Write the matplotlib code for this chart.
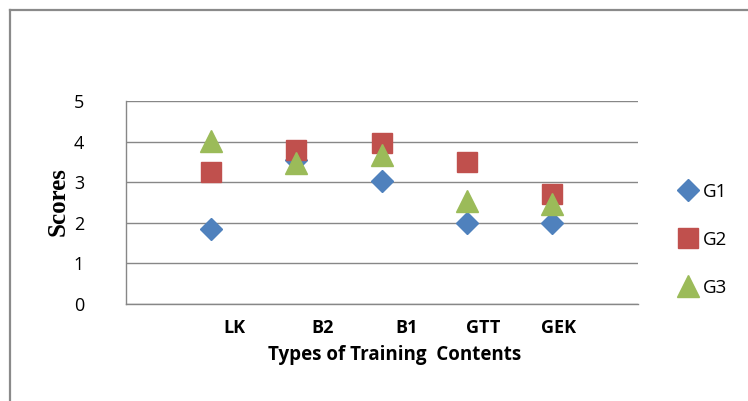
import matplotlib
matplotlib.use("Agg")
import matplotlib.pyplot as plt
from matplotlib.lines import Line2D

categories = ["LK", "B2", "B1", "GTT", "GEK"]
g1 = [1.85, 3.55, 3.03, 2.0, 2.0]
g2 = [3.26, 3.80, 3.97, 3.49, 2.72]
g3 = [4.01, 3.47, 3.66, 2.54, 2.46]
series_names = ["G1", "G2", "G3"]
y_ticks = [0, 1, 2, 3, 4, 5]

x_pos = list(range(1, len(categories) + 1))
label_pos = [1.28, 2.31, 3.29, 4.19, 5.07]

BLUE = "#4F81BD"
RED = "#C0504D"
GREEN = "#9BBB59"
GRID = "#878787"
FONT = "Open Sans"

W, H = 748, 401
fig = plt.figure(figsize=(W / 100, H / 100), dpi=100)

ax = fig.add_axes([125.7 / W, 1 - 304 / H, 512 / W, 203 / H])
ax.plot(x_pos, g1, linestyle="none", marker="D", ms=11.2, color=BLUE, label=series_names[0], zorder=3)
ax.plot(x_pos, g2, linestyle="none", marker="s", ms=15, color=RED, label=series_names[1], zorder=3)
ax.plot(x_pos, g3, linestyle="none", marker="^", ms=15.5, color=GREEN, label=series_names[2], zorder=3)

ax.set_xlim(0, 6)
ax.set_ylim(0, 5)
ax.set_yticks(y_ticks)
ax.set_yticklabels([str(v) for v in y_ticks], fontsize=13, family=FONT)
ax.tick_params(axis="y", length=0, pad=30)
ax.set_xticks(label_pos)
ax.set_xticklabels(categories, fontsize=13, family=FONT, fontweight="bold")
ax.tick_params(axis="x", length=0, pad=11)
ax.yaxis.grid(True, color=GRID, linewidth=1.0)
ax.set_axisbelow(True)
for s in ["top", "right"]:
    ax.spines[s].set_visible(False)
for s in ["left", "bottom"]:
    ax.spines[s].set_color(GRID)
    ax.spines[s].set_linewidth(1.0)

fig.text(395 / W, 1 - 355 / H, "Types of Training  Contents", ha="center", va="center",
         fontsize=13.5, family=FONT, fontweight="bold")
fig.text(58 / W, 1 - 202 / H, "Scores", ha="center", va="center", rotation=90,
         fontsize=18, family="Liberation Serif", fontweight="bold")

leg = fig.legend(loc="center left", bbox_to_anchor=(679 / W, 1 - 240 / H), frameon=False,
                 handlelength=1.0, handletextpad=0.3, labelspacing=1.6,
                 prop={"family": FONT, "size": 13.5}, borderaxespad=0, borderpad=0)

# outer border (top and left visible)
fig.add_artist(Line2D([9.5 / W, 9.5 / W], [0, 1 - 10 / H], transform=fig.transFigure,
                      color="#8a8a8a", linewidth=1.6))
fig.add_artist(Line2D([9.5 / W, 1], [1 - 10 / H, 1 - 10 / H], transform=fig.transFigure,
                      color="#8a8a8a", linewidth=1.6))

fig.savefig("out.png", dpi=100)
